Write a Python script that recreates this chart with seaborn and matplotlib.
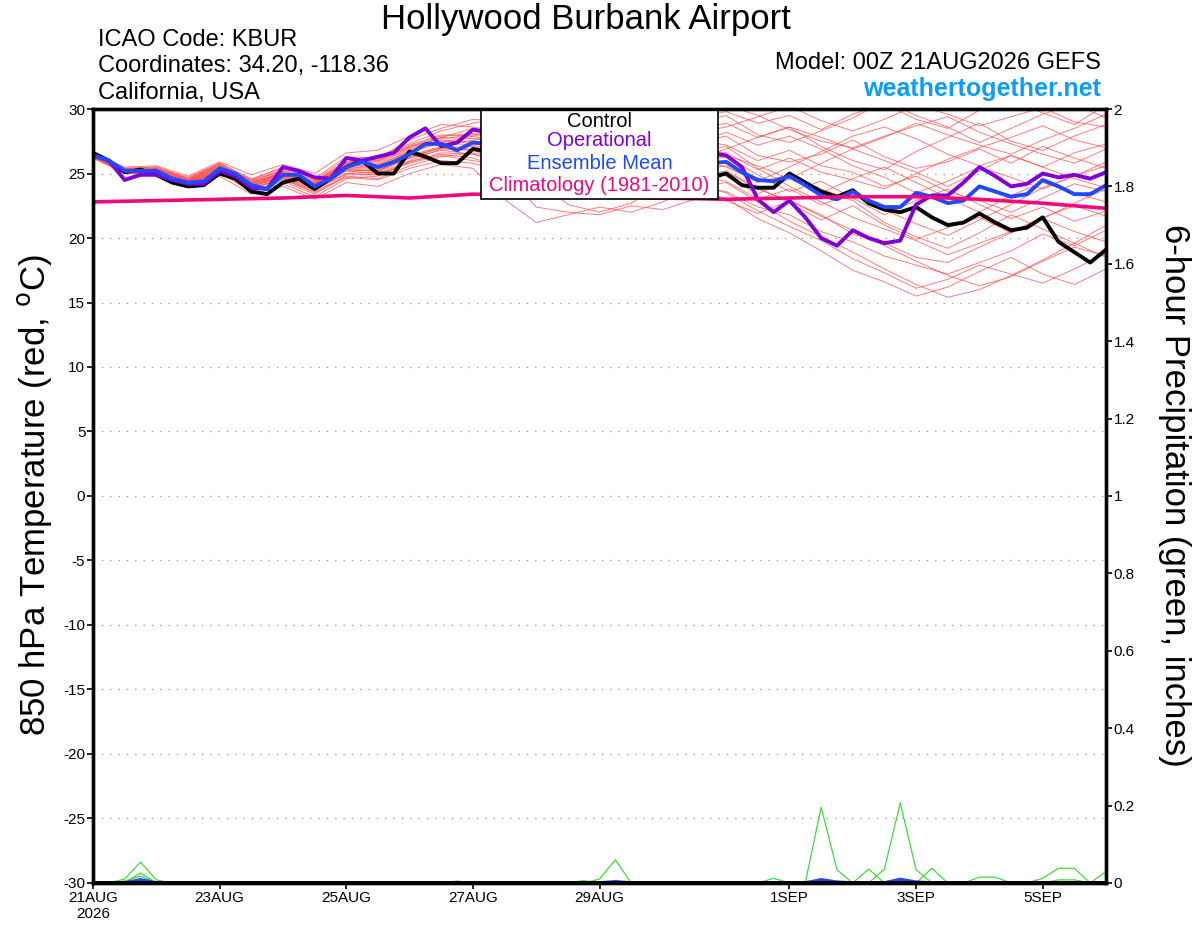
import numpy as np
import pandas as pd
import seaborn as sns
import matplotlib.pyplot as plt
from matplotlib.patches import Rectangle

sns.set_style('white')
plt.rcParams['font.family'] = ['Liberation Sans', 'DejaVu Sans']
plt.rcParams['axes.unicode_minus'] = False
plt.rcParams['text.color'] = 'black'
plt.rcParams['xtick.color'] = 'black'
plt.rcParams['ytick.color'] = 'black'

# time axes
times_6h = pd.date_range('2026-08-21 00:00', '2026-09-06 00:00', freq='6h')
times_12h = pd.date_range('2026-08-21 00:00', '2026-09-06 00:00', freq='12h')
clim_days = pd.date_range('2026-08-21', '2026-09-06', freq='D')

tick_dates = ['2026-08-21', '2026-08-23', '2026-08-25', '2026-08-27',
              '2026-08-29', '2026-09-01', '2026-09-03', '2026-09-05']
tick_labels = ['21AUG\n2026', '23AUG', '25AUG', '27AUG', '29AUG',
               '1SEP', '3SEP', '5SEP']

# 850 hPa temperature, 6-hourly (deg C)
control = [26.6, 26.0, 25.1, 25.3, 24.9, 24.3, 24.0, 24.1, 25.0, 24.6, 23.6, 23.4, 24.3,
           24.6, 23.8, 24.6, 25.5, 26.0, 25.0, 25.0, 26.7, 26.3, 25.8, 25.8, 26.9,
           26.7, 26.9, 26.5, 26.2, 25.8, 25.5, 25.9, 26.0, 25.5, 25.2, 25.4, 25.0,
           24.8, 24.6, 24.7, 25.0, 24.1, 23.9, 23.9, 25.0, 24.3, 23.6, 23.2, 23.7,
           22.7, 22.2, 22.0, 22.4, 21.6, 21.0, 21.2, 21.9, 21.2, 20.6, 20.8, 21.6,
           19.7, 18.9, 18.1, 19.1]
operational = [26.4, 26.0, 24.5, 24.9, 24.9, 24.5, 24.2, 24.2, 25.2, 24.8, 23.9, 23.8, 25.5,
               25.2, 24.7, 24.6, 26.2, 26.0, 26.3, 26.6, 27.8, 28.5, 27.1, 27.4, 28.4,
               28.2, 28.0, 27.5, 27.0, 27.2, 26.8, 27.0, 27.3, 26.9, 26.5, 26.7, 26.4,
               26.2, 26.5, 26.6, 26.4, 25.5, 23.0, 22.0, 22.9, 21.6, 20.0, 19.4, 20.6,
               20.0, 19.6, 19.8, 22.6, 23.3, 23.3, 24.3, 25.5, 24.8, 24.0, 24.2, 25.0,
               24.7, 24.9, 24.6, 25.1]
ens_mean = [26.4, 26.0, 25.2, 25.2, 25.2, 24.6, 24.3, 24.4, 25.4, 25.0, 24.1, 23.8, 24.9,
            24.9, 24.0, 24.6, 25.5, 25.9, 25.5, 25.9, 26.5, 27.3, 27.3, 26.8, 27.4,
            27.3, 27.0, 26.8, 26.5, 26.6, 26.3, 26.2, 26.4, 26.1, 25.9, 26.0, 25.8,
            25.6, 25.7, 25.8, 25.9, 25.1, 24.5, 24.4, 24.8, 24.1, 23.3, 23.0, 23.6,
            22.9, 22.4, 22.4, 23.5, 23.2, 22.7, 22.9, 24.0, 23.6, 23.2, 23.4, 24.5,
            24.0, 23.4, 23.4, 24.1]
# daily climatology (1981-2010)
climatology = [22.8, 22.9, 23.0, 23.1, 23.3, 23.1, 23.4, 23.3, 23.2, 23.1, 23.0,
               23.1, 23.2, 23.2, 23.0, 22.7, 22.3]

# ensemble members, 12-hourly
members = [
    [26.5, 25.0, 25.4, 24.6, 25.8, 24.5, 25.5, 24.6, 26.3, 26.2, 27.6,
     28.5, 29.2, 29.0, 28.5, 27.8, 27.5, 28.0, 28.6, 29.3, 29.8, 28.9,
     29.5, 28.4, 29.6, 30.4, 29.2, 28.5, 29.9, 30.6, 29.7, 28.8, 30.3],
    [26.3, 25.3, 25.0, 24.0, 25.1, 23.6, 24.2, 23.2, 24.6, 24.8, 25.9,
     26.6, 26.5, 25.8, 24.9, 24.4, 23.8, 24.5, 24.9, 24.0, 23.6, 22.4,
     21.8, 20.5, 19.7, 18.6, 17.9, 17.2, 18.1, 19.0, 20.3, 19.4, 20.6],
    [26.6, 25.5, 25.6, 24.8, 25.9, 24.9, 25.7, 25.0, 26.6, 26.8, 27.9,
     28.8, 28.6, 28.2, 27.9, 27.0, 26.4, 27.2, 27.8, 28.4, 28.9, 27.8,
     28.6, 27.1, 26.0, 25.3, 26.7, 27.8, 28.9, 27.5, 26.8, 27.9, 28.8],
    [26.2, 25.1, 24.9, 23.9, 24.8, 23.4, 24.0, 23.0, 24.3, 24.0, 25.0,
     25.7, 25.4, 23.0, 21.2, 21.8, 22.4, 22.0, 22.8, 23.9, 24.3, 22.8,
     21.3, 20.1, 18.9, 17.6, 16.4, 15.4, 16.0, 17.1, 18.3, 19.6, 21.0],
    [26.4, 25.4, 25.3, 24.5, 25.6, 24.2, 25.0, 24.2, 25.8, 25.9, 27.0,
     27.8, 27.7, 27.9, 27.6, 27.1, 26.8, 27.5, 28.1, 27.6, 27.2, 26.0,
     26.8, 25.6, 25.1, 24.0, 24.8, 23.6, 22.9, 22.0, 23.1, 24.2, 23.6],
    [26.5, 25.2, 25.1, 24.2, 25.3, 24.0, 24.7, 23.7, 25.2, 25.0, 26.0,
     26.9, 26.8, 26.4, 25.7, 25.0, 24.6, 25.2, 25.8, 26.6, 27.1, 25.4,
     24.0, 22.8, 21.6, 20.7, 19.8, 18.7, 19.6, 20.5, 21.6, 22.5, 21.7],
    [26.3, 25.0, 25.0, 24.4, 25.4, 24.1, 24.8, 24.1, 25.5, 25.4, 26.6,
     27.4, 27.9, 28.4, 28.1, 27.6, 27.9, 28.6, 29.1, 29.6, 30.3, 29.5,
     28.4, 27.5, 27.0, 27.9, 28.7, 29.4, 28.2, 27.3, 26.5, 25.8, 26.9],
    [26.4, 25.3, 25.3, 24.4, 25.5, 24.2, 25.1, 23.9, 25.4, 25.3, 26.2,
     27.0, 26.9, 26.2, 25.4, 24.3, 23.3, 23.8, 24.6, 25.2, 25.6, 24.3,
     24.9, 23.8, 22.9, 21.2, 20.1, 19.2, 20.4, 21.8, 20.7, 19.6, 18.5],
    [26.5, 25.4, 25.5, 24.6, 25.7, 24.4, 25.3, 24.4, 25.9, 26.0, 27.1,
     27.9, 28.1, 27.6, 27.4, 27.0, 26.5, 27.0, 26.6, 27.4, 27.9, 26.4,
     25.9, 26.5, 27.6, 26.3, 25.4, 25.9, 26.9, 25.8, 27.1, 26.2, 25.4],
    [26.3, 25.1, 25.1, 24.1, 25.2, 23.8, 24.6, 23.5, 24.9, 24.9, 25.8,
     26.4, 26.0, 25.6, 24.6, 22.6, 22.0, 22.7, 24.2, 23.6, 23.1, 21.5,
     20.4, 19.0, 17.5, 16.6, 15.5, 16.2, 17.4, 18.5, 17.2, 16.4, 17.6],
    [26.4, 25.2, 25.2, 24.3, 25.5, 24.2, 25.0, 24.1, 25.7, 25.6, 26.8,
     27.6, 27.3, 27.0, 26.6, 26.2, 25.9, 26.4, 26.0, 25.3, 24.8, 23.4,
     24.6, 25.8, 26.9, 26.0, 25.1, 24.0, 25.2, 26.4, 25.5, 24.6, 23.9],
    [26.6, 25.2, 25.3, 24.5, 25.4, 24.3, 25.0, 24.3, 25.8, 25.8, 26.9,
     27.8, 28.5, 28.0, 27.2, 26.8, 27.0, 26.5, 25.5, 24.7, 25.2, 23.9,
     22.7, 21.4, 22.5, 21.0, 19.9, 20.8, 21.6, 20.4, 21.5, 22.7, 23.8],
    [26.2, 25.0, 24.9, 24.0, 25.0, 23.7, 24.4, 23.4, 24.8, 24.6, 25.6,
     26.3, 26.6, 26.2, 25.4, 24.8, 25.6, 26.2, 25.6, 24.8, 24.4, 23.0,
     23.8, 22.6, 23.4, 22.2, 21.1, 20.2, 21.4, 22.6, 23.9, 24.8, 25.6],
    [26.5, 25.3, 25.4, 24.5, 25.7, 24.4, 25.2, 24.3, 25.8, 26.0, 27.1,
     27.7, 28.0, 28.6, 28.3, 28.0, 27.4, 28.2, 28.7, 28.2, 28.6, 29.4,
     30.2, 29.1, 28.3, 29.2, 30.3, 29.6, 28.7, 29.4, 30.1, 29.0, 28.6],
    [26.3, 25.2, 25.2, 24.3, 25.2, 24.0, 24.8, 23.8, 25.0, 25.1, 26.2,
     26.8, 26.5, 25.9, 25.1, 24.5, 24.0, 24.8, 25.4, 25.8, 26.3, 24.9,
     23.6, 24.4, 23.1, 21.8, 22.9, 23.8, 22.6, 21.5, 22.4, 21.3, 22.1],
    [26.4, 25.1, 25.2, 24.3, 25.3, 24.1, 24.9, 24.0, 25.3, 25.2, 26.4,
     27.1, 27.6, 27.8, 27.1, 26.6, 26.2, 26.8, 27.3, 27.0, 26.6, 25.3,
     26.2, 25.1, 24.5, 23.8, 25.0, 26.1, 27.0, 27.8, 28.7, 27.6, 27.0],
    [26.5, 25.3, 25.0, 24.1, 25.2, 23.9, 24.5, 23.6, 24.7, 24.5, 25.4,
     26.0, 25.8, 25.1, 22.4, 22.0, 21.8, 22.5, 22.2, 23.0, 25.1, 23.8,
     22.9, 21.7, 20.6, 19.4, 18.2, 17.1, 16.3, 17.0, 18.2, 19.3, 18.6],
    [26.4, 25.2, 25.3, 24.4, 25.5, 24.3, 25.1, 24.2, 25.6, 25.7, 26.7,
     27.5, 27.5, 27.1, 26.9, 26.7, 26.2, 26.0, 26.6, 27.3, 28.2, 27.2,
     27.9, 26.9, 25.6, 24.7, 23.5, 24.4, 25.5, 24.7, 23.8, 24.8, 25.9],
    [26.3, 25.1, 25.0, 24.2, 25.3, 24.0, 24.7, 23.9, 25.2, 25.2, 26.3,
     27.0, 27.1, 26.5, 25.8, 25.4, 25.1, 25.8, 25.0, 24.2, 23.5, 22.1,
     20.9, 19.8, 18.4, 17.3, 16.1, 16.8, 17.9, 17.2, 16.5, 17.6, 18.8],
    [26.5, 25.4, 25.5, 24.7, 25.8, 24.6, 25.4, 24.5, 26.1, 26.3, 27.3,
     28.3, 28.9, 29.3, 28.8, 28.1, 28.4, 29.0, 28.4, 28.9, 29.5, 28.0,
     27.4, 28.3, 29.3, 30.6, 29.5, 28.6, 27.4, 28.5, 29.6, 30.4, 29.3],
    [26.4, 25.3, 25.2, 24.4, 25.5, 24.3, 25.0, 24.2, 25.6, 25.5, 26.7,
     27.4, 27.2, 26.7, 26.1, 25.6, 25.2, 25.9, 26.5, 26.1, 26.9, 27.8,
     28.6, 27.8, 26.9, 27.8, 28.9, 28.0, 27.2, 26.5, 27.6, 28.5, 29.6],
    [26.3, 25.1, 25.1, 24.2, 25.2, 23.9, 24.6, 23.7, 25.0, 24.9, 25.9,
     26.5, 26.2, 25.4, 24.7, 24.2, 23.9, 24.5, 25.2, 25.9, 26.4, 25.6,
     24.6, 23.5, 24.6, 25.5, 24.3, 23.1, 22.0, 23.3, 24.3, 23.5, 22.8],
    [26.6, 25.4, 25.4, 24.6, 25.6, 24.5, 25.2, 24.4, 25.9, 26.1, 27.2,
     28.0, 27.9, 27.3, 26.7, 26.3, 26.8, 27.4, 27.0, 26.2, 25.5, 24.4,
     25.5, 26.7, 27.9, 28.6, 27.7, 26.5, 25.6, 26.4, 25.5, 26.6, 27.3],
    [26.4, 25.2, 25.1, 24.3, 25.3, 24.1, 24.9, 24.0, 25.3, 25.2, 26.3,
     27.0, 26.8, 26.0, 25.1, 24.4, 24.7, 25.4, 24.8, 23.9, 22.9, 21.9,
     22.9, 21.8, 20.3, 19.6, 18.5, 18.1, 19.3, 20.4, 21.5, 20.5, 19.7],
]

# 6-hour precipitation (inches), 6-hourly
precip_members = [
    [0, 0, 0.010, 0.054, 0.008, 0, 0, 0, 0, 0, 0, 0, 0,
     0, 0, 0, 0, 0, 0, 0, 0, 0, 0, 0, 0, 0,
     0, 0, 0, 0, 0, 0, 0.010, 0.060, 0, 0, 0, 0, 0,
     0, 0, 0, 0, 0, 0, 0, 0.196, 0.034, 0, 0, 0, 0,
     0, 0, 0, 0, 0, 0, 0, 0, 0.012, 0.038, 0.038, 0, 0.030],
    [0, 0, 0, 0.026, 0, 0, 0, 0, 0, 0, 0, 0, 0,
     0, 0, 0, 0, 0, 0, 0, 0, 0, 0, 0.005, 0, 0,
     0, 0, 0, 0, 0, 0, 0, 0, 0, 0, 0, 0, 0,
     0, 0, 0, 0, 0.012, 0, 0, 0, 0, 0, 0.036, 0, 0,
     0, 0, 0, 0, 0.015, 0.015, 0, 0, 0, 0, 0, 0, 0],
    [0, 0, 0.005, 0.018, 0, 0, 0, 0, 0, 0, 0, 0, 0,
     0, 0, 0, 0, 0, 0, 0, 0, 0, 0, 0, 0, 0,
     0, 0, 0, 0, 0, 0.006, 0, 0, 0, 0, 0, 0, 0,
     0, 0, 0, 0, 0, 0, 0, 0, 0, 0, 0, 0.036, 0.207,
     0.034, 0, 0, 0, 0, 0, 0, 0, 0, 0, 0, 0, 0],
    [0, 0, 0, 0, 0, 0, 0, 0, 0, 0, 0, 0, 0,
     0, 0, 0, 0, 0, 0, 0, 0, 0, 0, 0, 0, 0,
     0, 0, 0, 0, 0.004, 0, 0, 0, 0, 0, 0, 0, 0,
     0, 0, 0, 0, 0, 0, 0, 0, 0, 0, 0, 0, 0,
     0, 0.038, 0, 0, 0, 0, 0, 0, 0, 0.008, 0.008, 0, 0],
]
precip_mean = [0, 0, 0, 0.008, 0, 0, 0, 0, 0, 0, 0, 0, 0,
               0, 0, 0, 0, 0, 0, 0, 0, 0, 0, 0, 0, 0,
               0, 0, 0, 0, 0, 0, 0, 0.003, 0, 0, 0, 0, 0,
               0, 0, 0, 0, 0, 0, 0, 0.008, 0.002, 0, 0, 0, 0.009,
               0.002, 0, 0, 0, 0, 0, 0, 0, 0, 0, 0, 0, 0]
precip_control = [0.0] * 65

RED = '#ff5050'
PURPLE = '#8000dc'
BLUE = '#1f48ff'
PINK = '#f0087c'
GREEN = '#3ddc3d'

temp_df = pd.DataFrame({
    'time': np.tile(times_12h, len(members)),
    'temp': np.concatenate(members),
    'member': np.repeat(np.arange(len(members)), len(times_12h)),
})
precip_df = pd.DataFrame({
    'time': np.tile(times_6h, len(precip_members)),
    'precip': np.concatenate(precip_members),
    'member': np.repeat(np.arange(len(precip_members)), len(times_6h)),
})

fig = plt.figure(figsize=(12, 9.27), dpi=100)
ax = fig.add_axes([0.0775, 0.0475, 0.8442, 0.8349])

ax.yaxis.grid(True, linestyle=(0, (1, 5)), color='#a0a0a0', lw=1)
sns.lineplot(data=temp_df, x='time', y='temp', units='member', estimator=None,
             color=RED, lw=0.7, alpha=0.75, ax=ax, legend=False)
sns.lineplot(x=times_6h, y=control, color='black', lw=2.8, ax=ax)
sns.lineplot(x=times_6h, y=operational, color=PURPLE, lw=2.8, ax=ax)
sns.lineplot(x=times_6h, y=ens_mean, color=BLUE, lw=2.8, ax=ax)
sns.lineplot(x=clim_days, y=climatology, color=PINK, lw=2.6, ax=ax)

ax.set_xlim(times_6h[0], times_6h[-1])
ax.set_ylim(-30, 30)
ax.set_yticks(range(-30, 31, 5))
ax.set_xticks(pd.to_datetime(tick_dates))
ax.set_xticklabels(tick_labels)
ax.set_xlabel('')
ax.set_ylabel('')
ax.tick_params(axis='both', labelsize=11, length=4, width=1.2, direction='out',
               left=True, bottom=True, pad=1.5)

# legend box
ax.add_patch(Rectangle((0.383, 0.8837), 0.234, 0.1163, transform=ax.transAxes,
                       facecolor='white', edgecolor='black', lw=1.2, zorder=10))
for txt, col, yy in [('Control', 'black', 0.9845),
                     ('Operational', PURPLE, 0.9587),
                     ('Ensemble Mean', BLUE, 0.9302),
                     ('Climatology (1981-2010)', PINK, 0.9018)]:
    ax.text(0.5, yy, txt, color=col, fontsize=14.5, ha='center', va='center',
            transform=ax.transAxes, zorder=11)

ax2 = ax.twinx()
sns.lineplot(data=precip_df, x='time', y='precip', units='member', estimator=None,
             color=GREEN, lw=0.9, ax=ax2, legend=False)
sns.lineplot(x=times_6h, y=precip_mean, color=BLUE, lw=2.6, ax=ax2)
sns.lineplot(x=times_6h, y=precip_control, color='black', lw=2.8, ax=ax2)
ax2.set_ylim(0, 2)
ax2.set_yticks(np.arange(0, 2.01, 0.2))
ax2.set_yticklabels(['%g' % round(v, 1) for v in np.arange(0, 2.01, 0.2)])
ax2.set_ylabel('')
ax2.set_xlabel('')
ax2.tick_params(axis='y', labelsize=11, length=4, width=1.2, direction='out',
                right=True, pad=1.5)
ax2.set_xlim(times_6h[0], times_6h[-1])

for a in (ax, ax2):
    for sp in a.spines.values():
        sp.set_color('black')
        sp.set_linewidth(2.4)

fig.text(0.0285, 0.466, '850 hPa Temperature (red, $^{\\mathrm{o}}$C)', rotation=90,
         fontsize=25, ha='center', va='center')
fig.text(0.979, 0.466, '6-hour Precipitation (green, inches)', rotation=270,
         fontsize=25, ha='center', va='center')

fig.text(0.488, 0.979, 'Hollywood Burbank Airport', fontsize=25, ha='center', va='center')
fig.text(0.0817, 0.957, 'ICAO Code: KBUR', fontsize=17, ha='left', va='center')
fig.text(0.0817, 0.929, 'Coordinates: 34.20, -118.36', fontsize=17, ha='left', va='center')
fig.text(0.0817, 0.900, 'California, USA', fontsize=17, ha='left', va='center')
fig.text(0.9175, 0.932, 'Model: 00Z 21AUG2026 GEFS', fontsize=17, ha='right', va='center')
fig.text(0.9175, 0.904, 'weathertogether.net', fontsize=18, ha='right', va='center',
         color='#0a9cff', fontweight='bold')

fig.savefig('out.png', dpi=100)
